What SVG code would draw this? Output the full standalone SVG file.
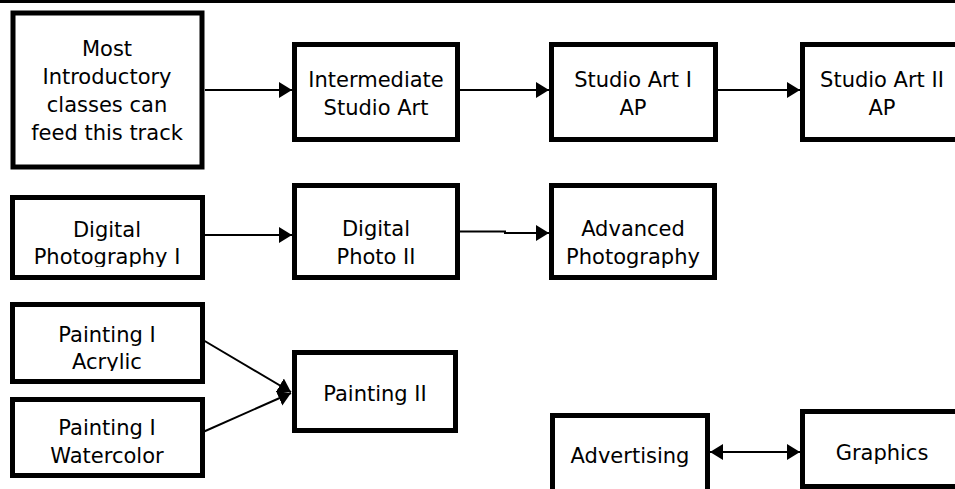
<svg xmlns="http://www.w3.org/2000/svg" width="955" height="489" viewBox="0 0 955 489">
<style>
.box{fill:#fff;stroke:#000;stroke-width:5}
.t{font-family:"DejaVu Sans","Liberation Sans",sans-serif;font-size:21px;fill:#000;text-anchor:middle}
.c{fill:none;stroke:#000;stroke-width:2}
</style>
<defs>
<marker id="ah" markerUnits="userSpaceOnUse" markerWidth="14" markerHeight="16" refX="13" refY="8" orient="auto">
<polygon points="0,0 13,8 0,16" fill="#000"/>
</marker>
<marker id="ahs" markerUnits="userSpaceOnUse" markerWidth="14" markerHeight="16" refX="0" refY="8" orient="auto">
<polygon points="13,0 0,8 13,16" fill="#000"/>
</marker>
<clipPath id="clipDP1"><rect x="15" y="200" width="185" height="67"/></clipPath>
<clipPath id="clipPIA"><rect x="15" y="307" width="185" height="64"/></clipPath>
</defs>
<rect width="955" height="489" fill="#fff"/>
<line x1="0" y1="1.5" x2="955" y2="1.5" stroke="#000" stroke-width="3"/>

<g id="connectors">
<line class="c" x1="205" y1="90" x2="292" y2="90" marker-end="url(#ah)"/>
<line class="c" x1="460" y1="90" x2="549" y2="90" marker-end="url(#ah)"/>
<line class="c" x1="718" y1="90" x2="800" y2="90" marker-end="url(#ah)"/>
<line class="c" x1="205" y1="235" x2="292" y2="235" marker-end="url(#ah)"/>
<path class="c" d="M460 231.5 H505 V233 H549" marker-end="url(#ah)"/>
<line class="c" x1="203" y1="340" x2="291" y2="392" marker-end="url(#ah)"/>
<line class="c" x1="203" y1="432" x2="291" y2="393" marker-end="url(#ah)"/>
<line class="c" x1="710" y1="452" x2="800" y2="452" marker-start="url(#ahs)" marker-end="url(#ah)"/>
</g>

<g id="n-intro">
<rect class="box" x="13" y="13" width="189" height="154" stroke-width="6"/>
<text class="t" x="107" y="56">Most</text>
<text class="t" x="107" y="84">Introductory</text>
<text class="t" x="107" y="112">classes can</text>
<text class="t" x="107" y="140">feed this track</text>
</g>
<g id="n-inter">
<rect class="box" x="294.5" y="44.5" width="163" height="95"/>
<text class="t" x="376" y="87">Intermediate</text>
<text class="t" x="376" y="115">Studio Art</text>
</g>
<g id="n-sa1">
<rect class="box" x="551.5" y="44.5" width="164" height="95"/>
<text class="t" x="633" y="87">Studio Art I</text>
<text class="t" x="633" y="115">AP</text>
</g>
<g id="n-sa2">
<rect class="box" x="802.5" y="44.5" width="160" height="95"/>
<text class="t" x="882" y="87">Studio Art II</text>
<text class="t" x="882" y="115">AP</text>
</g>
<g id="n-dp1">
<rect class="box" x="12.5" y="197.5" width="190" height="80"/>
<g clip-path="url(#clipDP1)">
<text class="t" x="107" y="237">Digital</text>
<text class="t" x="107" y="264">Photography I</text>
</g>
</g>
<g id="n-dp2">
<rect class="box" x="294.5" y="185.5" width="163" height="92"/>
<text class="t" x="376" y="236">Digital</text>
<text class="t" x="376" y="264">Photo II</text>
</g>
<g id="n-advph">
<rect class="box" x="551.5" y="185.5" width="163" height="92"/>
<text class="t" x="633" y="236">Advanced</text>
<text class="t" x="633" y="264">Photography</text>
</g>
<g id="n-pia">
<rect class="box" x="12.5" y="304.5" width="190" height="77"/>
<g clip-path="url(#clipPIA)">
<text class="t" x="107" y="342">Painting I</text>
<text class="t" x="107" y="369">Acrylic</text>
</g>
</g>
<g id="n-piw">
<rect class="box" x="12.5" y="399.5" width="190" height="76"/>
<text class="t" x="107" y="435">Painting I</text>
<text class="t" x="107" y="463">Watercolor</text>
</g>
<g id="n-pii">
<rect class="box" x="294.5" y="352.5" width="161" height="78"/>
<text class="t" x="375" y="401">Painting II</text>
</g>
<g id="n-adv">
<rect class="box" x="552.5" y="415.5" width="155" height="90"/>
<text class="t" x="630" y="463">Advertising</text>
</g>
<g id="n-graph">
<rect class="box" x="802.5" y="411.5" width="160" height="75"/>
<text class="t" x="882" y="460">Graphics</text>
</g>
</svg>
